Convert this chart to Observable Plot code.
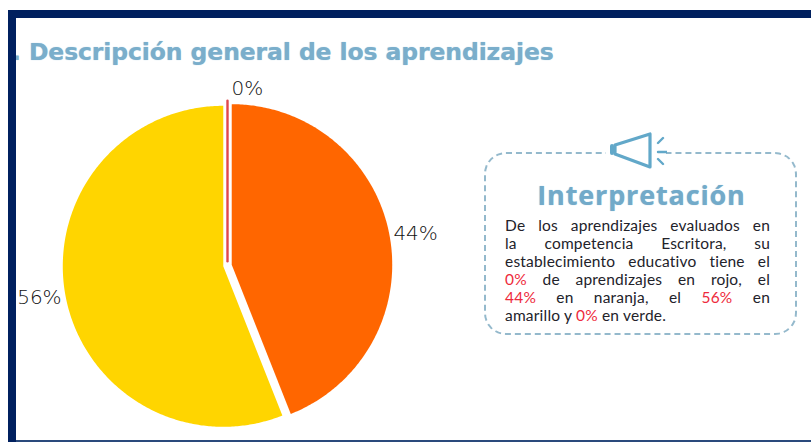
<!DOCTYPE html>
<html lang="es">
<head>
<meta charset="utf-8">
<script src="https://cdn.jsdelivr.net/npm/d3@7"></script>
<script src="https://cdn.jsdelivr.net/npm/@observablehq/plot@0.6"></script>
<style>
html,body{margin:0;padding:0;background:#fff;}
#page{position:relative;width:811px;height:442px;overflow:hidden;background:#fff;}
#chart{position:absolute;left:0;top:0;}
#chart svg{display:block;background:transparent;}
.frame-top{position:absolute;left:8px;top:10px;width:803px;height:8px;background:#00205f;border-radius:3px 0 0 0;}
.frame-left{position:absolute;left:8px;top:10px;width:8px;height:432px;background:#00205f;}
.frame-bottom{position:absolute;left:16px;top:440px;width:795px;height:2px;background:#2a4a7c;}
#title{position:absolute;left:12px;top:35px;font:700 23.5px/34px "DejaVu Sans",sans-serif;color:#7aaecb;white-space:pre;text-shadow:0 0 1px #9cc4da;letter-spacing:-.1px;}
#box{position:absolute;left:484px;top:152px;width:309px;height:179px;border:2px dashed #94b9cc;border-radius:22px;}
#mask{position:absolute;left:606px;top:146px;width:60px;height:14px;background:#fff;}
#icon{position:absolute;left:609px;top:132px;}
#interp{position:absolute;left:484px;top:177px;width:315px;text-align:center;font:700 27px/36px "Open Sans",sans-serif;color:#72aac9;letter-spacing:.85px;text-shadow:0 0 1px #9cc4da;}
#body{position:absolute;left:505px;top:216px;width:265px;font:400 15.5px/18px "Lato",sans-serif;color:#22222a;letter-spacing:.2px;}
#body div{text-align:justify;text-align-last:justify;white-space:nowrap;height:18px;}
#body div.last{text-align-last:left;}
#body b{font-weight:400;color:#ee2a3c;}
</style>
</head>
<body>
<div id="page">
  <div id="chart"></div>
  <div id="title">. Descripción general de los aprendizajes</div>
  <div class="frame-top"></div><div class="frame-left"></div><div class="frame-bottom"></div>
  <div id="box"></div>
  <div id="mask"></div>
  <svg id="icon" width="58" height="40" viewBox="0 0 58 40" fill="none" stroke="#62a8c9" stroke-linecap="round" stroke-linejoin="round">
    <path d="M6 13 L41 2 L41 35 L6 22 Z" stroke-width="3.2"/>
    <path d="M3 14 L3 21" stroke-width="4"/>
    <path d="M49 11 L54 6 M49 20 L58 20 M49 27 L54 32" stroke-width="2.4"/>
  </svg>
  <div id="interp">Interpretación</div>
  <div id="body">
    <div>De los aprendizajes evaluados en</div>
    <div>la competencia Escritora, su</div>
    <div>establecimiento educativo tiene el</div>
    <div><b>0%</b> de aprendizajes en rojo, el</div>
    <div><b>44%</b> en naranja, el <b>56%</b> en</div>
    <div class="last">amarillo y <b>0%</b> en verde.</div>
  </div>
</div>
<script>
const names  = ["Rojo", "Naranja", "Amarillo", "Verde"];
const values = [0, 44, 56, 0];
const labels = ["0%", "44%", "56%", "0%"];
const colors = ["#e0474c", "#ff6600", "#ffd500", "#00a651"];

const W = 811, H = 442, cx = 227, cy = 265, R = 160.5;
const explode = 4.3 / R, labelR = 191.5 / R, labelRy = 170 / R;
const total = d3.sum(values);

// Walk the slices clockwise from twelve o'clock, in pie-radius units.
let acc = 0;
const slices = names.map((name, i) => {
  const start = acc / total * 2 * Math.PI;
  acc += values[i];
  const end = acc / total * 2 * Math.PI;
  const mid = (start + end) / 2;
  return {name, value: values[i], label: labels[i], start, end, mid,
          ox: explode * Math.sin(mid), oy: explode * Math.cos(mid)};
});
const outline = s => {
  const n = Math.max(1, Math.ceil((s.end - s.start) * 90));
  const ring = d3.range(n + 1).map(k => {
    const a = s.start + (s.end - s.start) * k / n;
    return {name: s.name, x: s.ox + Math.sin(a), y: s.oy + Math.cos(a)};
  });
  return [{name: s.name, x: s.ox, y: s.oy}, ...ring];
};
const filled = slices.filter(s => s.value > 0);
const sliver = slices.filter(s => s.name === "Rojo");
const labelFont = {fontSize: 20, fontWeight: 200, fontFamily: "DejaVu Sans", fill: "#111"};

const chart = Plot.plot({
  width: W, height: H, margin: 0,
  style: {background: "transparent"},
  x: {domain: [-cx / R, (W - cx) / R], range: [0, W], axis: null},
  y: {domain: [cy / R, (cy - H) / R], range: [0, H], axis: null},
  color: {type: "ordinal", domain: names, range: colors},
  marks: [
    Plot.line(filled.flatMap(outline), {x: "x", y: "y", z: "name", fill: "name",
      stroke: "none", curve: "linear-closed"}),
    Plot.line(sliver.flatMap(outline), {x: "x", y: "y", z: "name", stroke: "name",
      strokeWidth: 2.4}),
    Plot.text(filled, {
      x: s => labelR * Math.sin(s.mid),
      y: s => labelRy * Math.cos(s.mid),
      text: "label", ...labelFont
    }),
    Plot.text(sliver, {
      x: s => s.ox, y: s => s.oy + 1 + 12 / R,
      text: "label", textAnchor: "start", dx: 4, ...labelFont
    })
  ]
});
document.getElementById("chart").append(chart);
</script>
</body>
</html>
